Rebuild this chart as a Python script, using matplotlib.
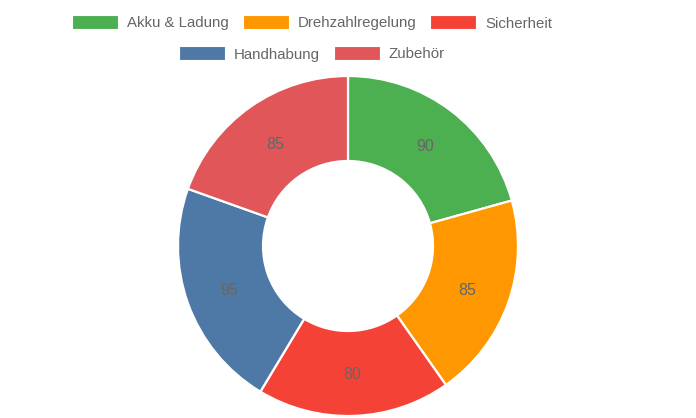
import matplotlib
matplotlib.use("Agg")
from matplotlib import pyplot as plt
from matplotlib.patches import Rectangle
import numpy as np

categories = ["Akku & Ladung", "Drehzahlregelung", "Sicherheit", "Handhabung", "Zubehör"]
values = [90, 85, 80, 95, 85]
colors = ["#4caf50", "#ff9800", "#f44336", "#4e79a7", "#e15759"]
legend_rows = [[0, 1, 2], [3, 4]]

plt.rcParams["font.family"] = ["Liberation Sans", "DejaVu Sans"]
W, H = 696, 418
fig = plt.figure(figsize=(W / 100, H / 100), dpi=100)

# donut: center (348, 246) px from top-left, outer radius ~170 px
cx, cy, r = 348, 246, 170
ax = fig.add_axes([(cx - r) / W, (H - cy - r) / H, 2 * r / W, 2 * r / H])
wedges, texts = ax.pie(values, colors=colors, startangle=90, counterclock=False,
                       radius=1, wedgeprops=dict(width=0.5, edgecolor="white", linewidth=1.6))
for w, v in zip(wedges, values):
    ang = np.deg2rad((w.theta1 + w.theta2) / 2)
    ax.text(0.745 * np.cos(ang), 0.745 * np.sin(ang) - 0.01, str(v), ha="center", va="center",
            fontsize=11.5, color="#666666")
ax.set_xlim(-1, 1)
ax.set_ylim(-1, 1)
ax.set_aspect("equal")
ax.axis("off")

# legend drawn by hand so the second row is centred like the original
fig.canvas.draw()
renderer = fig.canvas.get_renderer()
sw, sh, gap1, gap2 = 46, 14, 9, 14
row_y = [22, 53]
legend_center = 312
fsize = 10.8
for row, ypix in zip(legend_rows, row_y):
    widths = []
    for i in row:
        t = fig.text(0, 0, categories[i], fontsize=fsize)
        bb = t.get_window_extent(renderer)
        widths.append(bb.width)
        t.remove()
    total = sum(sw + gap1 + tw for tw in widths) + gap2 * (len(row) - 1)
    x = legend_center - total / 2
    for i, tw in zip(row, widths):
        fig.patches.append(Rectangle((x / W, (H - ypix - sh / 2) / H), sw / W, sh / H,
                                     transform=fig.transFigure, facecolor=colors[i],
                                     edgecolor="white", linewidth=0.8))
        fig.text((x + sw + gap1) / W, (H - ypix) / H, categories[i], fontsize=fsize,
                 color="#666666", va="center_baseline", ha="left")
        x += sw + gap1 + tw + gap2

fig.savefig("out.png", dpi=100)
